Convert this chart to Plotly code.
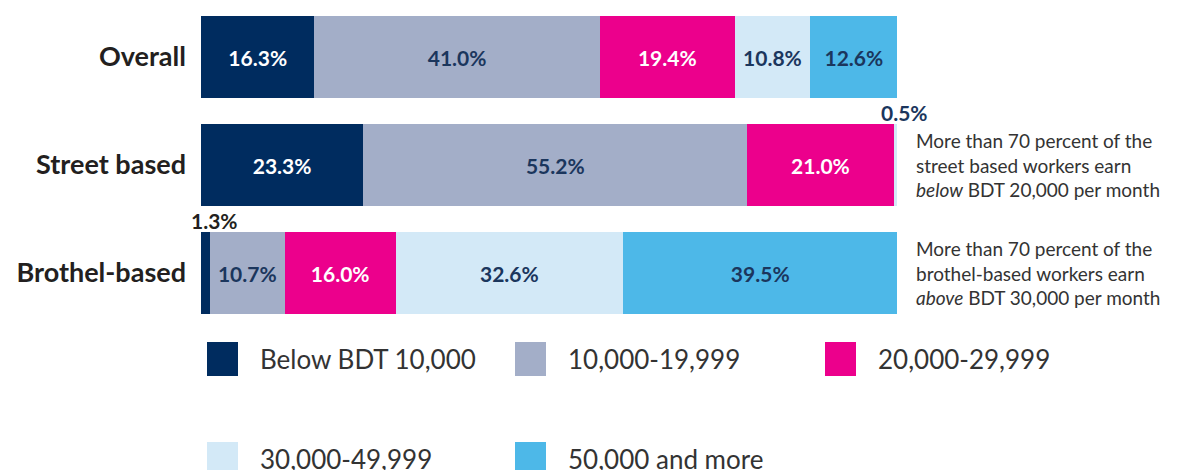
import plotly.graph_objects as go

# data
groups = ['Overall', 'Street based', 'Brothel-based']
income_bands = ['Below BDT 10,000', '10,000-19,999', '20,000-29,999',
                '30,000-49,999', '50,000 and more']
below_10k = [16.3, 23.3, 1.3]
band_10_20k = [41.0, 55.2, 10.7]
band_20_30k = [19.4, 21.0, 16.0]
band_30_50k = [10.8, 0.5, 32.6]
above_50k = [12.6, 0.0, 39.5]
series = [below_10k, band_10_20k, band_20_30k, band_30_50k, above_50k]

notes = {
    'Street based': 'More than 70 percent of the<br>street based workers earn<br><i>below</i> BDT 20,000 per month',
    'Brothel-based': 'More than 70 percent of the<br>brothel-based workers earn<br><i>above</i> BDT 30,000 per month',
}

colors = ['#002C5F', '#A3AEC8', '#EC008C', '#D3E9F7', '#4DB8E8']
label_colors = ['white', '#1B365D', 'white', '#1B365D', '#1B365D']
FONT = 'Lato'

fig = go.Figure()

for name, vals, col, tcol in zip(income_bands, series, colors, label_colors):
    fig.add_trace(go.Bar(
        y=groups,
        x=vals,
        orientation='h',
        name=name,
        marker=dict(color=col, line=dict(width=0)),
        text=[f'{v:.1f}%' if v >= 2 else '' for v in vals],
        textposition='inside',
        insidetextanchor='middle',
        textangle=0,
        textfont=dict(family=FONT, size=21, color=tcol, weight='bold'),
        constraintext='none',
        hoverinfo='skip',
        showlegend=False,
    ))

annotations = []

# small segment labels placed above the bars
for gi, g in enumerate(groups):
    cum = 0
    for si, vals in enumerate(series):
        v = vals[gi]
        if 0 < v < 2:
            annotations.append(dict(
                x=cum + v / 2, y=g, xref='x', yref='y',
                text=f'<b>{v:.1f}%</b>', showarrow=False,
                yshift=53, xshift=9, xanchor='center', yanchor='middle',
                font=dict(family=FONT, size=21,
                          color='#1B365D' if gi == 1 else '#231F20'),
            ))
        cum += v

# side notes
for g, txt in notes.items():
    annotations.append(dict(
        x=1.025, y=g, xref='paper', yref='y', text=txt, showarrow=False,
        xanchor='left', yanchor='middle', align='left',
        font=dict(family=FONT, size=19, color='#333333'),
    ))

# legend drawn by hand so the swatches can be large
shapes = []
W, H = 696.0, 324.0
col_x = [207, 515, 825]
row_y = [359, 459]
for i, (name, col) in enumerate(zip(income_bands, colors)):
    cx = col_x[i % 3]
    cy = row_y[i // 3]
    shapes.append(dict(
        type='rect', xref='paper', yref='paper',
        x0=(cx - 201) / W, x1=(cx + 31 - 201) / W,
        y0=(327 - cy - 17) / H, y1=(327 - cy + 17) / H,
        fillcolor=col, line=dict(width=0),
    ))
    annotations.append(dict(
        x=(cx + 51 - 201) / W, y=(327 - cy) / H, xref='paper', yref='paper',
        text=name, showarrow=False, xanchor='left', yanchor='middle',
        font=dict(family=FONT, size=26, color='#333333'),
    ))

fig.update_layout(
    barmode='stack',
    bargap=0.24,
    width=1203,
    height=470,
    margin=dict(l=201, r=306, t=3, b=143),
    plot_bgcolor='white',
    paper_bgcolor='white',
    font=dict(family=FONT),
    annotations=annotations,
    shapes=shapes,
    showlegend=False,
)

fig.update_xaxes(range=[0, 100], visible=False, fixedrange=True)
fig.update_yaxes(
    range=[2.5, -0.5], autorange=False,
    showgrid=False, showline=False, zeroline=False,
    ticks='', ticklabelstandoff=14,
    tickfont=dict(family=FONT, size=27, color='#231F20', weight='bold'),
)

fig.write_html('out.html', config={'displayModeBar': False},
               post_script="document.body.style.margin='0';")
